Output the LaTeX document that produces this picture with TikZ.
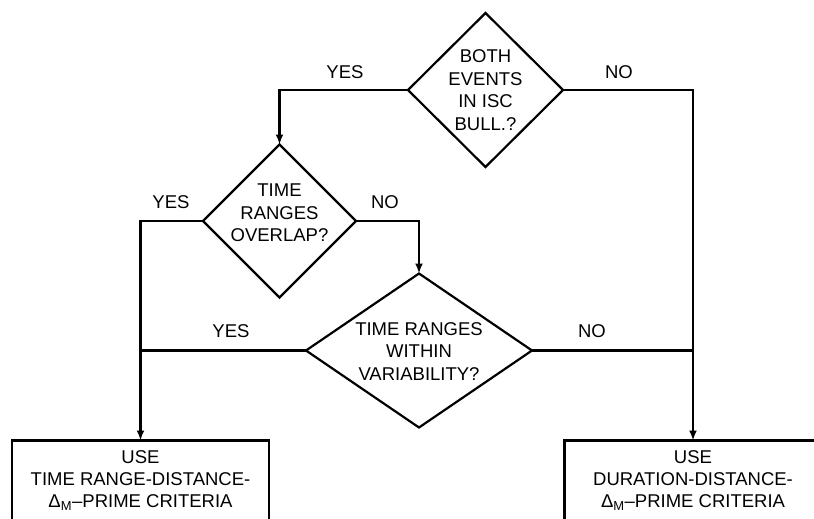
\documentclass[tikz,border=0pt]{standalone}
\usepackage{fontspec}
\setmainfont{Liberation Sans}
\usetikzlibrary{shapes.geometric,arrows.meta}

\begin{document}
\begin{tikzpicture}[x=1pt, y=-1pt, >={Latex[length=10pt,width=8pt]},
        decision/.style={diamond, draw=black, line width=2.2pt, inner sep=0pt, outer sep=0pt},
        usebox/.style={rectangle, draw=black, line width=2.2pt, align=center, outer sep=0pt,
            minimum width=257pt, minimum height=81pt, font=\fontsize{18.5}{22}\selectfont},
        qtext/.style={align=center, inner sep=0pt, font=\fontsize{18.5}{22.5}\selectfont},
        lbl/.style={inner sep=0pt, font=\fontsize{18.5}{22}\selectfont},
        flow/.style={line width=2.2pt}]
        \useasboundingbox (0,0) rectangle (814,519);
        \node [decision, minimum width=155pt, minimum height=154pt] at (485.5, 90)  (isc)     {};
        \node [decision, minimum width=153pt, minimum height=153pt] at (279.5, 221) (overlap) {};
        \node [decision, minimum width=226pt, minimum height=154pt] at (419, 350.5) (within)  {};
        \node [qtext] at (isc) {BOTH\\EVENTS\\IN ISC\\BULL.?};
        \node [qtext] at ([yshift=8pt]overlap) {TIME\\RANGES\\OVERLAP?};
        \node [qtext] at ([yshift=-1pt]within) {TIME RANGES\\WITHIN\\VARIABILITY?};
        \node [usebox] at (140.5, 481) (trange)   {USE\\TIME RANGE-DISTANCE-\\Δ\textsubscript{M}–PRIME CRITERIA};
        \node [usebox] at (693, 481)   (duration) {USE\\DURATION-DISTANCE-\\Δ\textsubscript{M}–PRIME CRITERIA};
        % answers
        \node [lbl] at (345, 72)  {YES};
        \node [lbl] at (619, 72)  {NO};
        \node [lbl] at (171, 202) {YES};
        \node [lbl] at (385, 202) {NO};
        \node [lbl] at (231, 331) {YES};
        \node [lbl] at (592, 331) {NO};
        \draw[flow, ->] (isc.west) -| (overlap.north);
        \draw[flow, ->] (isc.east) -| (duration.north);
        \draw[flow, ->] (overlap.west) -| (trange.north);
        \draw[flow, ->] (overlap.east) -| (within.north);
        \draw[flow] (within.west) -- (within.west -| trange.north);
        \draw[flow] (within.east) -- (within.east -| duration.north);
    \end{tikzpicture}
\end{document}
